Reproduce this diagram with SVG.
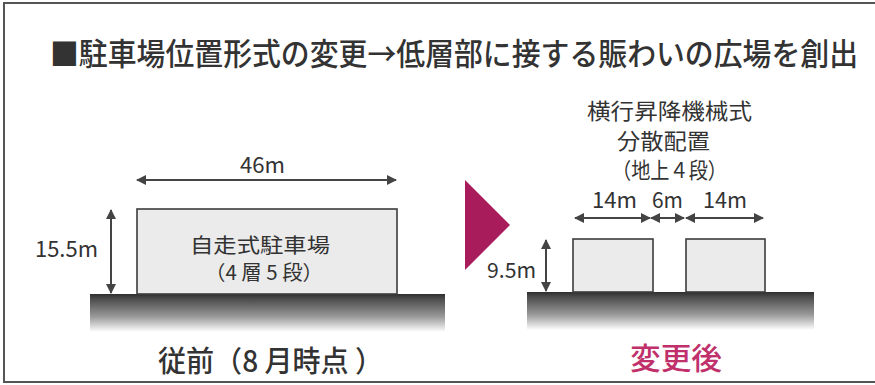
<svg xmlns="http://www.w3.org/2000/svg" width="875" height="385" viewBox="0 0 875 385">
<defs>
<style>
text{font-family:"Noto Sans CJK JP","Noto Sans",sans-serif;fill:#333;}
.cj{font-size:20px;}
.num{font-size:22px;}
.box{fill:#ebebeb;stroke:#3c3c3c;stroke-width:1.6;}
.arr{stroke:#444;stroke-width:2;fill:none;marker-start:url(#ah);marker-end:url(#ah);}
</style>
<marker id="ah" viewBox="0 0 10 10" refX="9" refY="5" markerWidth="5" markerHeight="5" orient="auto-start-reverse" markerUnits="strokeWidth">
<path d="M0,0 L10,5 L0,10 Z" fill="#444"/>
</marker>
<linearGradient id="gr" x1="0" y1="0" x2="0" y2="1">
<stop offset="0" stop-color="#2e2e2e"/>
<stop offset="0.12" stop-color="#4a4a4a"/>
<stop offset="0.6" stop-color="#9a9a9a"/>
<stop offset="1" stop-color="#ffffff"/>
</linearGradient>
</defs>
<rect width="875" height="385" fill="#fff"/>
<g id="frame" fill="none" stroke="#555" stroke-width="2">
<path d="M875,3 H4 V382 H875"/>
</g>
<g id="title">
<text transform="translate(50,65) scale(1,1.1)" x="0" y="0" font-size="28" font-weight="500" textLength="808" lengthAdjust="spacingAndGlyphs">■駐車場位置形式の変更→低層部に接する賑わいの広場を創出</text>
</g>
<g id="before">
<rect x="90" y="294" width="355" height="38" fill="url(#gr)"/>
<rect id="building" class="box" x="137" y="209" width="260" height="85"/>
<text class="cj" x="190" y="253" textLength="140" lengthAdjust="spacingAndGlyphs">自走式駐車場</text>
<text class="cj" x="205" y="280" textLength="118" lengthAdjust="spacingAndGlyphs">（4 層 5 段）</text>
<text class="num" x="240" y="173" textLength="45" lengthAdjust="spacingAndGlyphs">46m</text>
<text class="num" x="35" y="257" textLength="63" lengthAdjust="spacingAndGlyphs">15.5m</text>
<text x="158" y="372" font-size="29" font-weight="500" textLength="225" lengthAdjust="spacingAndGlyphs">従前（8 月時点 ）</text>
</g>
<g id="pointer">
<polygon points="465,180 510,225 465,270" fill="#a81c5c"/>
</g>
<g id="after">
<rect x="527" y="292" width="287" height="38" fill="url(#gr)"/>
<rect id="box1" class="box" x="573" y="239" width="80" height="53"/>
<rect id="box2" class="box" x="686" y="239" width="79" height="53"/>
<text x="587" y="119" font-size="22" textLength="165" lengthAdjust="spacingAndGlyphs">横行昇降機械式</text>
<text x="617" y="149" font-size="22" textLength="93" lengthAdjust="spacingAndGlyphs">分散配置</text>
<text x="612" y="178" font-size="22" textLength="115" lengthAdjust="spacingAndGlyphs">（地上４段）</text>
<text class="num" x="592" y="208" textLength="45" lengthAdjust="spacingAndGlyphs">14m</text>
<text class="num" x="652" y="208" textLength="31" lengthAdjust="spacingAndGlyphs">6m</text>
<text class="num" x="703" y="208" textLength="44" lengthAdjust="spacingAndGlyphs">14m</text>
<text x="487" y="278" font-size="21" textLength="49" lengthAdjust="spacingAndGlyphs">9.5m</text>
<text x="630" y="369" font-size="30" font-weight="500" textLength="92" lengthAdjust="spacingAndGlyphs" style="fill:#c0306a">変更後</text>
</g>
<g id="connectors">
<line class="arr" x1="137" y1="180" x2="396" y2="180"/>
<line class="arr" x1="111" y1="210" x2="111" y2="293"/>
<line class="arr" x1="575" y1="218" x2="650" y2="218"/>
<line class="arr" x1="651" y1="218" x2="684" y2="218"/>
<line class="arr" x1="686" y1="218" x2="763" y2="218"/>
<line class="arr" x1="546" y1="240" x2="546" y2="291"/>
</g>
</svg>
